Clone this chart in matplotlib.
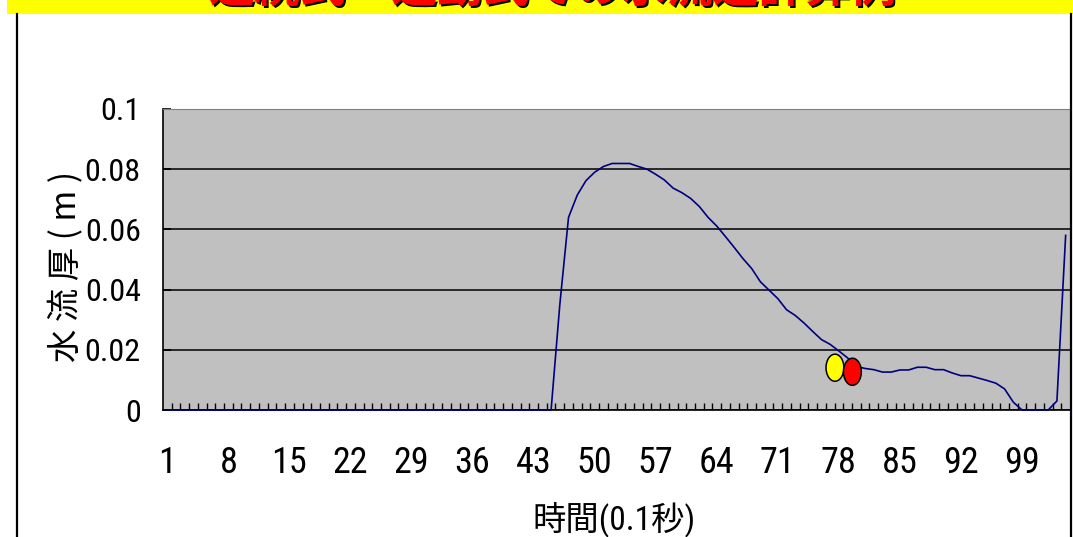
import numpy as np
import matplotlib
matplotlib.use('Agg')
import matplotlib.pyplot as plt
from matplotlib import font_manager
from matplotlib.patches import Ellipse, Rectangle
from matplotlib.lines import Line2D

# look for a narrow sans (Arial Narrow look-alike)
def pick_narrow():
    prefs = ['Liberation', 'Arimo', 'Roboto', 'Open Sans', 'Noto Sans', 'DejaVu Sans']
    found = []
    for f in font_manager.fontManager.ttflist:
        st = str(f.stretch)
        narrow_like = ('Narrow' in f.name or 'Condensed' in f.name
                       or st in ('condensed', 'semi-condensed', 'extra-condensed'))
        if narrow_like and f.style == 'normal' and 'Mono' not in f.name and 'Serif' not in f.name:
            found.append(f)
    for p in prefs:
        for f in found:
            if f.name.startswith(p):
                return f.name, str(f.stretch)
    if found:
        return found[0].name, str(found[0].stretch)
    return 'Liberation Sans', 'normal'

narrow, stretch = pick_narrow()
cjk = 'Noto Sans CJK JP'
plt.rcParams['font.family'] = [narrow, cjk, 'DejaVu Sans']
plt.rcParams['font.stretch'] = stretch

# data: water depth (m) at each time step (0.1 s)
steps = np.arange(1, 105)
depth = [0.0] * 45 + [
    0.035, 0.064, 0.0714, 0.0762, 0.079, 0.0809, 0.0819, 0.0819, 0.0819, 0.0809,
    0.080, 0.0783, 0.0764, 0.0737, 0.0722, 0.0703, 0.0676, 0.064, 0.0611, 0.0576,
    0.054, 0.0503, 0.047, 0.0426, 0.0398, 0.037, 0.0333, 0.0314, 0.0289, 0.0261,
    0.0234, 0.0218, 0.0196, 0.0173, 0.0145, 0.0138, 0.0134, 0.0126, 0.0126, 0.0133,
    0.0133, 0.0142, 0.0142, 0.0134, 0.0134, 0.0123, 0.0114, 0.0114, 0.0106, 0.0098,
    0.0089, 0.007, 0.0026, 0.0, 0.0, 0.0, 0.0, 0.003, 0.058,
]
xtick_labels = list(range(1, 100, 7))
yticks = [0, 0.02, 0.04, 0.06, 0.08, 0.1]
ytick_labels = ['0', '0.02', '0.04', '0.06', '0.08', '0.1']

# two balls (yellow, red) sitting on the curve
ball_x = [77.55, 79.55]
ball_y = [0.01405, 0.0127]
ball_colors = ['#FFFF00', '#FF0000']

title = '連続式・運動式での水流速計算例'

fig = plt.figure(figsize=(10.73, 5.37), dpi=100)
W, H = 1073, 537

# banner and frame (title is cut off by the top edge, as in the slide capture)
fig.patches.append(Rectangle((7 / W, 1 - 13.7 / H), 1, 13.7 / H, transform=fig.transFigure,
                             facecolor='#FFFF00', edgecolor='none', zorder=0))
fig.text(553 / W + 2 / W, 1 - 4 / H, title, color='black', fontsize=33, fontweight='bold',
         family=cjk, ha='center', va='baseline', zorder=1)
fig.text(553 / W, 1 - 2 / H, title, color='#FF0000', fontsize=33, fontweight='bold',
         family=cjk, ha='center', va='baseline', zorder=2)
for xp in (17, 1071):
    fig.lines.append(Line2D([xp / W, xp / W], [0, 1 - 13.7 / H], transform=fig.transFigure,
                            color='black', lw=1.6))

ax = fig.add_axes([163 / W, 1 - 410 / H, 907 / W, 301 / H])
ax.set_facecolor('#C0C0C0')
ax.plot(steps, depth, color='#000080', lw=1.2, clip_on=False, zorder=3)

for bx, by, bc in zip(ball_x, ball_y, ball_colors):
    ax.add_patch(Ellipse((bx, by), 2.05, 0.009, facecolor=bc, edgecolor='black',
                         lw=1.1, zorder=4))

ax.set_xlim(0.5, 104.5)
ax.set_ylim(0, 0.1)
ax.set_yticks(yticks)
ax.set_yticklabels(ytick_labels)
ax.yaxis.grid(True, color='black', lw=1.1)
ax.set_axisbelow(True)
ax.set_xticks(xtick_labels)
ax.set_xticks(np.arange(1.5, 104.5, 1), minor=True)
ax.tick_params(axis='x', which='major', length=0, pad=25, labelsize=26)
ax.tick_params(axis='x', which='minor', direction='in', length=5, width=1, color='black')
ax.tick_params(axis='y', direction='in', length=6, width=1.2, pad=16, labelsize=23)

ax.spines['top'].set_color('#808080')
ax.spines['right'].set_visible(False)
ax.spines['left'].set_linewidth(1.2)
ax.spines['bottom'].set_linewidth(1.2)

ax.set_xlabel('時間(0.1秒)', fontsize=24)
ax.xaxis.set_label_coords((614 - 163) / 907, -(501 - 410) / 301)
ax.set_ylabel('水 流 厚 ( m )', fontsize=24, family=[cjk])
ax.yaxis.set_label_coords(-(163 - 84) / 907, (410 - 266) / 301)

fig.savefig('out.png', dpi=100)
